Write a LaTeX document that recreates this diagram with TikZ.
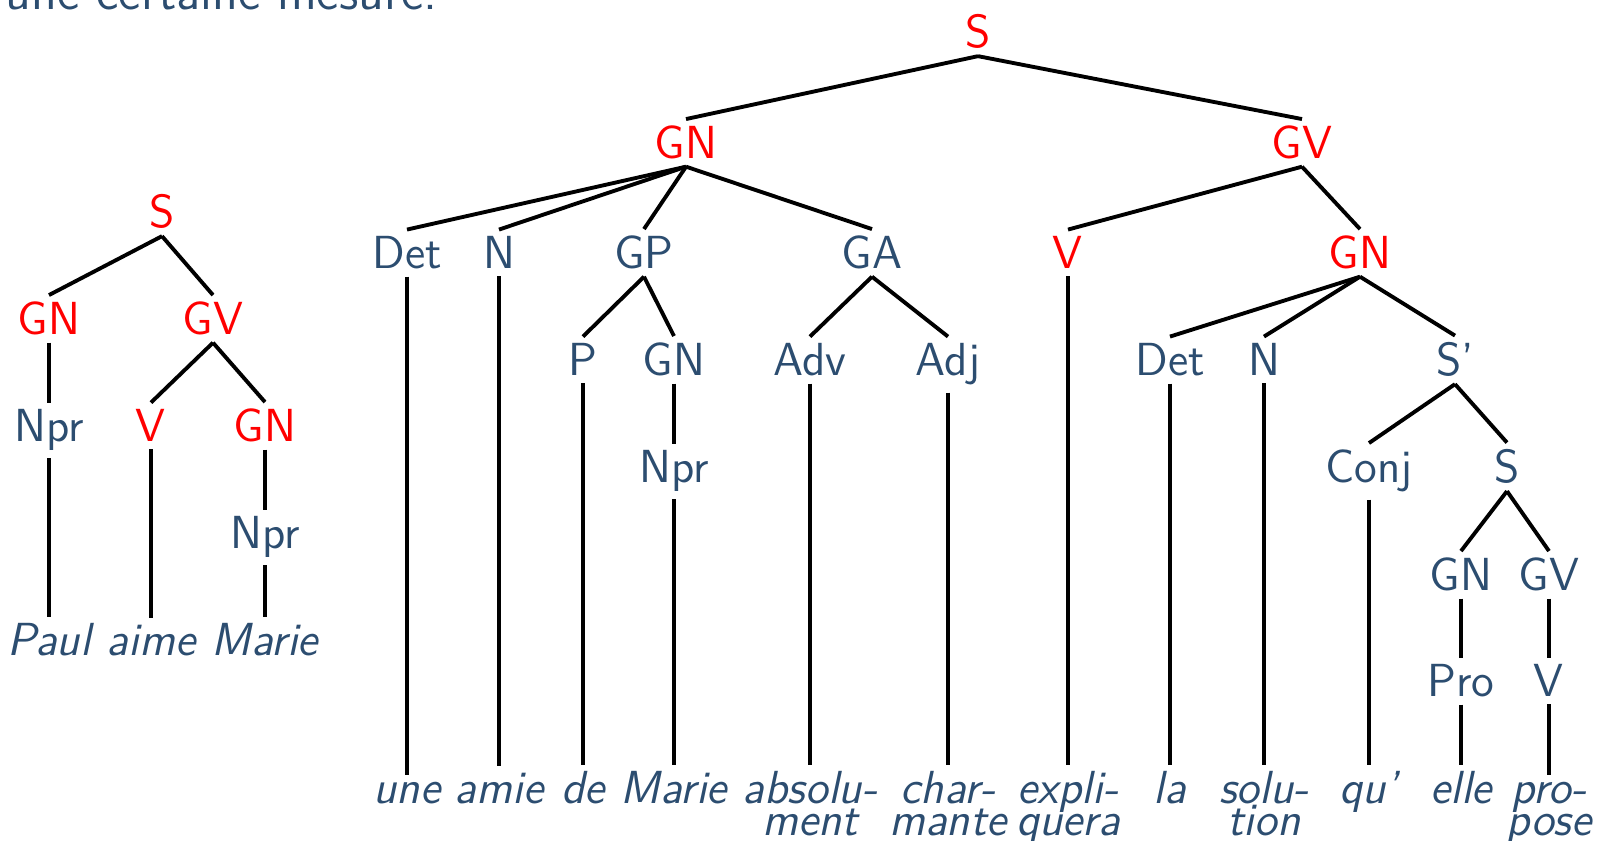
\documentclass[tikz,border=0pt]{standalone}
\usepackage{tikz}
\definecolor{slate}{RGB}{44,77,112}
\newcommand{\split}[2]{\vtop{\halign{\hfil##\hfil\cr #1\cr #2\cr}}}
\tikzset{
	cat/.style={anchor=base, inner sep=1.5pt, text=slate, font=\sffamily\fontsize{13.2}{14}\selectfont},
	head/.style={cat, text=red},
	word/.style={cat, font=\sffamily\itshape\fontsize{13.2}{8.9}\selectfont},
}
\begin{document}
\begin{tikzpicture}[line width=1.1pt]
	\useasboundingbox (0,0) rectangle (15.98,8.41);
	\clip (0,0) rectangle (15.98,8.41);
	\node[anchor=base west, inner sep=0pt, text=slate, font=\sffamily\fontsize{14.6}{17}\selectfont] (intro) at (0.04, 8.31) {une certaine mesure.};

	% Paul aime Marie
	\node[head] (ps) at (1.62, 6.13) {S};
	\node[head] (psgn) at (0.49, 5.06) {GN};
	\node[head] (psgv) at (2.13, 5.06) {GV};
	\node[cat] (psnpr) at (0.49, 3.99) {Npr};
	\node[head] (psv) at (1.51, 3.99) {V};
	\node[head] (psgnobj) at (2.65, 3.99) {GN};
	\node[cat] (psnprobj) at (2.65, 2.92) {Npr};
	\node[word] (paul) at (0.49, 1.85) {Paul};
	\node[word] (aime) at (1.51, 1.85) {aime};
	\node[word] (marieobj) at (2.65, 1.85) {Marie};

	\draw (ps.south) -- (psgn.north);
	\draw (ps.south) -- (psgv.north);
	\draw (psgn.south) -- (psnpr.north);
	\draw (psgv.south) -- (psv.north);
	\draw (psgv.south) -- (psgnobj.north);
	\draw (psgnobj.south) -- (psnprobj.north);
	\draw (psnpr.south) -- (paul.north);
	\draw (psv.south) -- (aime.north);
	\draw (psnprobj.south) -- (marieobj.north);

	% une amie de Marie ...
	\node[head] (s) at (9.78, 7.93) {S};
	\node[head] (gn) at (6.86, 6.82) {GN};
	\node[head] (gv) at (13.02, 6.82) {GV};
	\node[cat] (det) at (4.07, 5.72) {Det};
	\node[cat] (n) at (4.99, 5.72) {N};
	\node[cat] (gp) at (6.44, 5.72) {GP};
	\node[cat] (ga) at (8.72, 5.72) {GA};
	\node[head] (v) at (10.68, 5.72) {V};
	\node[head] (gnobj) at (13.60, 5.72) {GN};
	\node[cat] (p) at (5.83, 4.65) {P};
	\node[cat] (gnp) at (6.74, 4.65) {GN};
	\node[cat] (adv) at (8.10, 4.65) {Adv};
	\node[cat] (adj) at (9.48, 4.65) {Adj};
	\node[cat] (detobj) at (11.70, 4.65) {Det};
	\node[cat] (nobj) at (12.64, 4.65) {N};
	\node[cat] (sbar) at (14.55, 4.65) {S'};
	\node[cat] (npr) at (6.74, 3.58) {Npr};
	\node[cat] (conj) at (13.69, 3.58) {Conj};
	\node[cat] (srel) at (15.07, 3.58) {S};
	\node[cat] (gnrel) at (14.61, 2.50) {GN};
	\node[cat] (gvrel) at (15.49, 2.50) {GV};
	\node[cat] (pro) at (14.61, 1.44) {Pro};
	\node[cat] (vrel) at (15.49, 1.44) {V};

	\node[word] (une) at (4.07, 0.37) {une};
	\node[word] (amie) at (4.99, 0.37) {amie};
	\node[word] (de) at (5.83, 0.37) {de};
	\node[word] (marie) at (6.74, 0.37) {Marie};
	\node[word] (absolument) at (8.10, 0.37) {\split{absolu-}{ment}};
	\node[word] (charmante) at (9.48, 0.37) {\split{char-}{mante}};
	\node[word] (expliquera) at (10.68, 0.37) {\split{expli-}{quera}};
	\node[word] (la) at (11.70, 0.37) {la};
	\node[word] (solution) at (12.64, 0.37) {\split{solu-}{tion}};
	\node[word] (qu) at (13.69, 0.37) {qu'};
	\node[word] (elle) at (14.61, 0.37) {elle};
	\node[word] (propose) at (15.49, 0.37) {\split{pro-}{pose}};

	\draw (s.south) -- (gn.north);
	\draw (s.south) -- (gv.north);
	\draw (gn.south) -- (det.north);
	\draw (gn.south) -- (n.north);
	\draw (gn.south) -- (gp.north);
	\draw (gn.south) -- (ga.north);
	\draw (gp.south) -- (p.north);
	\draw (gp.south) -- (gnp.north);
	\draw (gnp.south) -- (npr.north);
	\draw (ga.south) -- (adv.north);
	\draw (ga.south) -- (adj.north);
	\draw (gv.south) -- (v.north);
	\draw (gv.south) -- (gnobj.north);
	\draw (gnobj.south) -- (detobj.north);
	\draw (gnobj.south) -- (nobj.north);
	\draw (gnobj.south) -- (sbar.north);
	\draw (sbar.south) -- (conj.north);
	\draw (sbar.south) -- (srel.north);
	\draw (srel.south) -- (gnrel.north);
	\draw (srel.south) -- (gvrel.north);
	\draw (gnrel.south) -- (pro.north);
	\draw (gvrel.south) -- (vrel.north);

	\draw (det.south) -- (une.north);
	\draw (n.south) -- (amie.north);
	\draw (p.south) -- (de.north);
	\draw (npr.south) -- (marie.north);
	\draw (adv.south) -- (absolument.north);
	\draw (adj.south) -- (charmante.north);
	\draw (v.south) -- (expliquera.north);
	\draw (detobj.south) -- (la.north);
	\draw (nobj.south) -- (solution.north);
	\draw (conj.south) -- (qu.north);
	\draw (pro.south) -- (elle.north);
	\draw (vrel.south) -- (propose.north);
\end{tikzpicture}
\end{document}
